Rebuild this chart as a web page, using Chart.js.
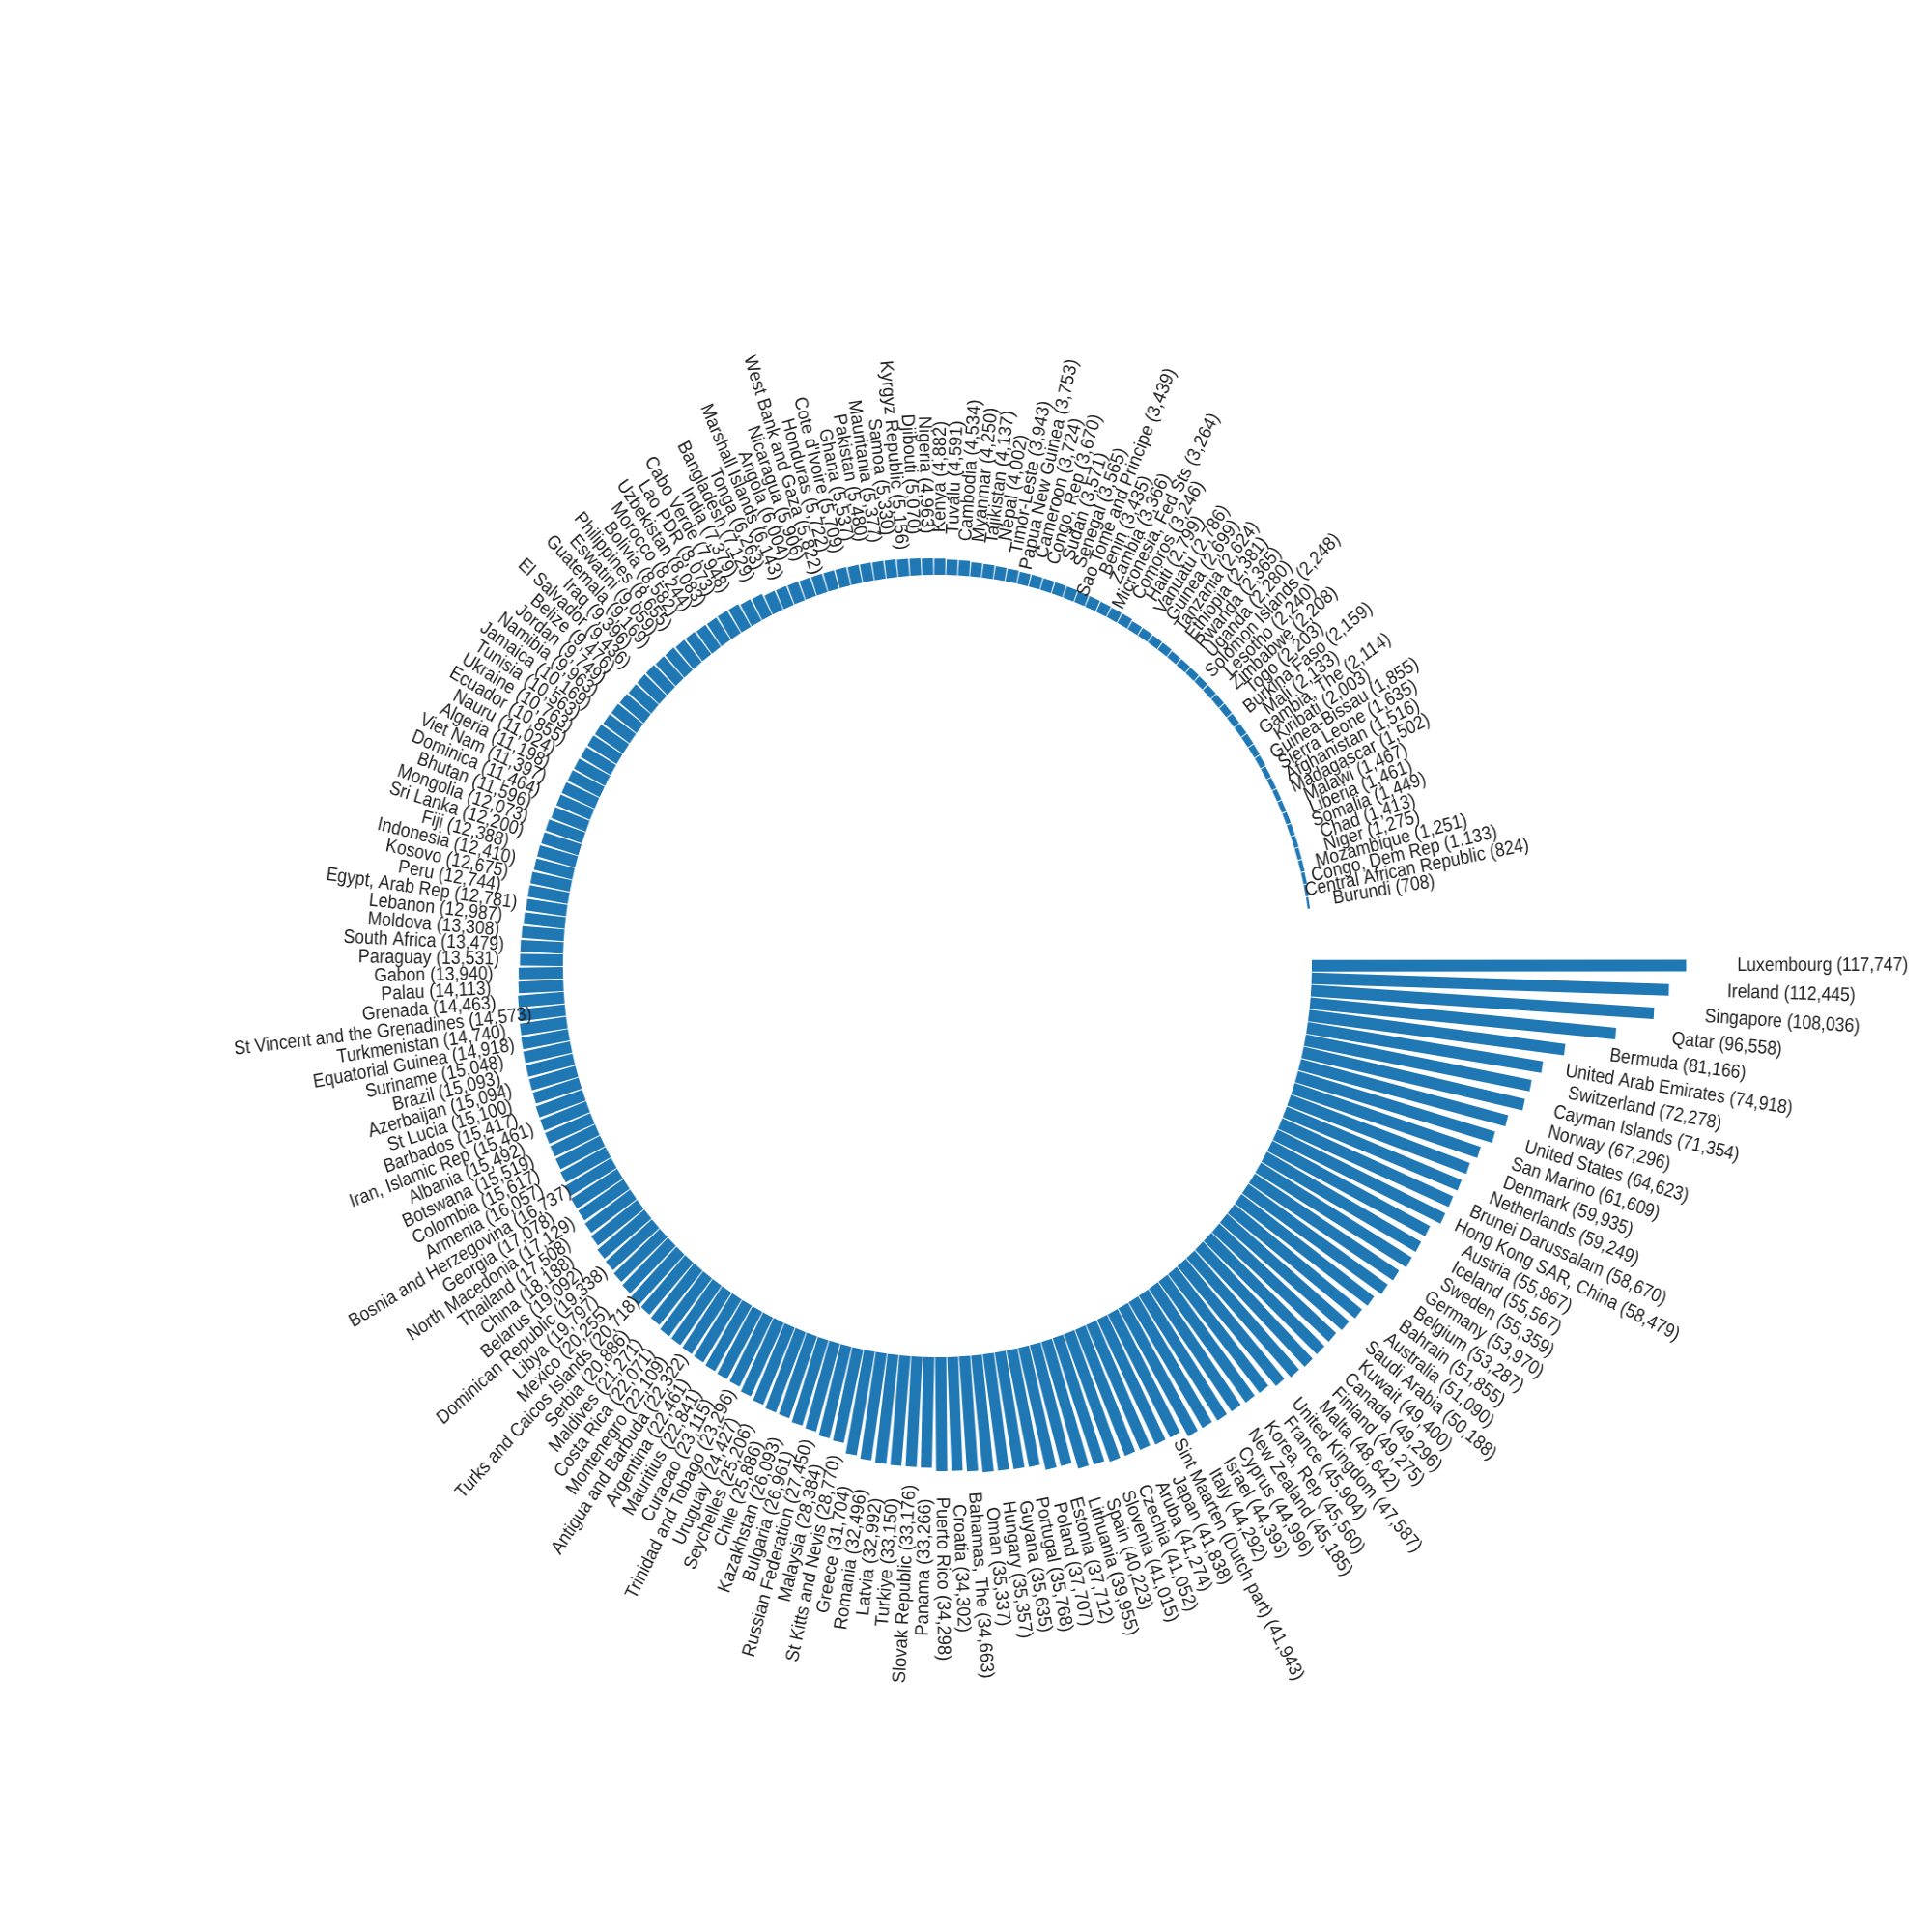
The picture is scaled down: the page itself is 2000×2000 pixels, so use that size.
<!DOCTYPE html>
<html>
<head>
<meta charset="utf-8">
<script src="https://cdn.jsdelivr.net/npm/chart.js@4.4.1/dist/chart.umd.min.js"></script>
<style>
html,body{margin:0;padding:0;background:#ffffff;}
#wrap{width:2000px;height:2000px;overflow:hidden;}
#c{width:2000px;height:2000px;display:block;}
</style>
</head>
<body>
<div id="wrap"><canvas id="c" width="2090" height="2000" style="width:2000px;height:2000px"></canvas></div>
<script>
const countries = [
"Luxembourg","Ireland","Singapore","Qatar","Bermuda","United Arab Emirates","Switzerland","Cayman Islands","Norway","United States",
"San Marino","Denmark","Netherlands","Brunei Darussalam","Hong Kong SAR, China","Austria","Iceland","Sweden","Germany","Belgium",
"Bahrain","Australia","Saudi Arabia","Kuwait","Canada","Finland","Malta","United Kingdom","France","Korea, Rep",
"New Zealand","Cyprus","Israel","Italy","Sint Maarten (Dutch part)","Japan","Aruba","Czechia","Slovenia","Spain",
"Lithuania","Estonia","Poland","Portugal","Guyana","Hungary","Oman","Bahamas, The","Croatia","Puerto Rico",
"Panama","Slovak Republic","Turkiye","Latvia","Romania","Greece","St Kitts and Nevis","Malaysia","Russian Federation","Bulgaria",
"Kazakhstan","Chile","Seychelles","Uruguay","Trinidad and Tobago","Curacao","Mauritius","Argentina","Antigua and Barbuda","Montenegro",
"Costa Rica","Maldives","Serbia","Turks and Caicos Islands","Mexico","Libya","Dominican Republic","Belarus","China","Thailand",
"North Macedonia","Georgia","Bosnia and Herzegovina","Armenia","Colombia","Botswana","Albania","Iran, Islamic Rep","Barbados","St Lucia",
"Azerbaijan","Brazil","Suriname","Equatorial Guinea","Turkmenistan","St Vincent and the Grenadines","Grenada","Palau","Gabon","Paraguay",
"South Africa","Moldova","Lebanon","Egypt, Arab Rep","Peru","Kosovo","Indonesia","Fiji","Sri Lanka","Mongolia",
"Bhutan","Dominica","Viet Nam","Algeria","Nauru","Ecuador","Ukraine","Tunisia","Jamaica","Namibia",
"Jordan","Belize","El Salvador","Iraq","Guatemala","Eswatini","Philippines","Bolivia","Morocco","Uzbekistan",
"Lao PDR","Cabo Verde","India","Bangladesh","Tonga","Marshall Islands","Angola","Nicaragua","West Bank and Gaza","Honduras",
"Cote d'Ivoire","Ghana","Pakistan","Mauritania","Samoa","Kyrgyz Republic","Djibouti","Nigeria","Kenya","Tuvalu",
"Cambodia","Myanmar","Tajikistan","Nepal","Timor-Leste","Papua New Guinea","Cameroon","Congo, Rep","Sudan","Senegal",
"Sao Tome and Principe","Benin","Zambia","Micronesia, Fed Sts","Comoros","Haiti","Vanuatu","Guinea","Tanzania","Ethiopia",
"Rwanda","Uganda","Solomon Islands","Lesotho","Zimbabwe","Togo","Burkina Faso","Mali","Gambia, The","Kiribati",
"Guinea-Bissau","Sierra Leone","Afghanistan","Madagascar","Malawi","Liberia","Somalia","Chad","Niger","Mozambique",
"Congo, Dem Rep","Central African Republic","Burundi"
];

const gdpValues = [
117747,112445,108036,96558,81166,74918,72278,71354,67296,64623,
61609,59935,59249,58670,58479,55867,55567,55359,53970,53287,
51855,51090,50188,49400,49296,49275,48642,47587,45904,45560,
45185,44996,44393,44292,41943,41838,41274,41052,41015,40223,
39955,37712,37707,35768,35635,35357,35337,34663,34302,34298,
33266,33176,33150,32992,32496,31704,28770,28384,27450,26961,
26093,25886,25206,24427,23296,23115,22841,22461,22322,22109,
22071,21271,20886,20718,20255,19797,19338,19092,18188,17508,
17129,17078,16737,16057,15617,15519,15492,15461,15417,15100,
15094,15093,15048,14918,14740,14573,14463,14113,13940,13531,
13479,13308,12987,12781,12744,12675,12410,12388,12200,12073,
11596,11464,11397,11198,11024,10855,10763,10563,10169,9963,
9749,9476,9436,9396,9169,9059,8655,8582,8244,8083,
8073,7948,7379,7129,6263,6143,6004,5906,5822,5722,
5709,5537,5480,5377,5330,5156,5070,4963,4882,4591,
4534,4250,4137,4002,3943,3753,3724,3670,3571,3565,
3439,3435,3366,3264,3246,2799,2786,2699,2624,2381,
2365,2280,2248,2240,2208,2203,2159,2133,2114,2003,
1855,1635,1516,1502,1467,1461,1449,1413,1275,1251,
1133,824,708
];

// Element: a straight (constant-width) bar rotated about the scale centre
class RadialRectElement extends Chart.ArcElement {
  draw(ctx) {
    const p = this.getProps(['x','y','startAngle','endAngle','innerRadius','outerRadius']);
    const o = this.options;
    const mid = (p.startAngle + p.endAngle) / 2;
    const w = o.rectWidth;
    ctx.save();
    ctx.translate(p.x, p.y);
    ctx.rotate(mid);
    ctx.fillStyle = o.backgroundColor;
    ctx.fillRect(p.innerRadius, -w / 2, Math.max(p.outerRadius - p.innerRadius, 0), w);
    ctx.restore();
  }
}
RadialRectElement.id = 'radialRect';
RadialRectElement.defaults = Object.assign({}, Chart.ArcElement.defaults, {rectWidth: 12});
RadialRectElement.defaultRoutes = Chart.ArcElement.defaultRoutes;
RadialRectElement.descriptors = Chart.ArcElement.descriptors;

// Controller: polar-area layout, bars start at the scale's zero
class RadialBarController extends Chart.PolarAreaController {
  updateElements(arcs, start, count, mode) {
    super.updateElements(arcs, start, count, mode);
    const scale = this._cachedMeta.rScale;
    const base = scale.getDistanceFromCenterForValue(0);
    for (let i = start; i < start + count; i++) {
      arcs[i].innerRadius = base;
    }
  }
}
RadialBarController.id = 'radialBar';
RadialBarController.defaults = Object.assign({}, Chart.PolarAreaController.defaults, {dataElementType: 'radialRect'});
RadialBarController.overrides = Chart.PolarAreaController.overrides;

Chart.register(RadialRectElement, RadialBarController);

const labelPlugin = {
  id: 'radialLabels',
  afterDatasetsDraw(chart) {
    const ctx = chart.ctx;
    const meta = chart.getDatasetMeta(0);
    const scale = chart.scales.r;
    const squeeze = 0.92;
    ctx.save();
    ctx.font = '20px "Liberation Sans Narrow", "Liberation Sans", sans-serif';
    ctx.fillStyle = '#222222';
    ctx.textBaseline = 'middle';
    meta.data.forEach((arc, i) => {
      const mid = (arc.startAngle + arc.endAngle) / 2;
      const rBar = scale.getDistanceFromCenterForValue(gdpValues[i]);
      const text = countries[i] + ' (' + gdpValues[i].toLocaleString('en-US') + ')';
      const w = ctx.measureText(text).width * squeeze;
      // label centred a little beyond the bar end; long labels sit closer in
      const r = rBar * 1.111 + 4.6 - 0.212 * w;
      let deg = (mid * 180 / Math.PI) % 360;
      if (deg < 0) deg += 360;
      ctx.save();
      ctx.translate(scale.xCenter, scale.yCenter);
      ctx.rotate(mid);
      ctx.translate(r, 0);
      if (deg > 90 && deg < 270) {
        ctx.rotate(Math.PI);
        ctx.scale(squeeze, 1);
        ctx.textAlign = 'right';
      } else {
        ctx.scale(squeeze, 1);
        ctx.textAlign = 'left';
      }
      ctx.fillText(text, 0, 0);
      ctx.restore();
    });
    ctx.restore();
  }
};

const maxVal = Math.max(...gdpValues);

new Chart(document.getElementById('c'), {
  type: 'radialBar',
  data: {
    labels: countries,
    datasets: [{
      data: gdpValues,
      backgroundColor: '#1f77b4',
      borderWidth: 0,
      angle: 1.827,
      rectWidth: 12
    }]
  },
  options: {
    responsive: false,
    animation: false,
    devicePixelRatio: 1,
    layout: {padding: {left: 204, right: 266, top: 190, bottom: 190}},
    plugins: {legend: {display: false}, tooltip: {enabled: false}},
    scales: {
      r: {
        type: 'radialLinear',
        min: -maxVal,
        max: maxVal,
        startAngle: 89.05,
        ticks: {display: false},
        grid: {display: false},
        angleLines: {display: false},
        pointLabels: {display: false}
      }
    }
  },
  plugins: [labelPlugin]
});
</script>
</body>
</html>
